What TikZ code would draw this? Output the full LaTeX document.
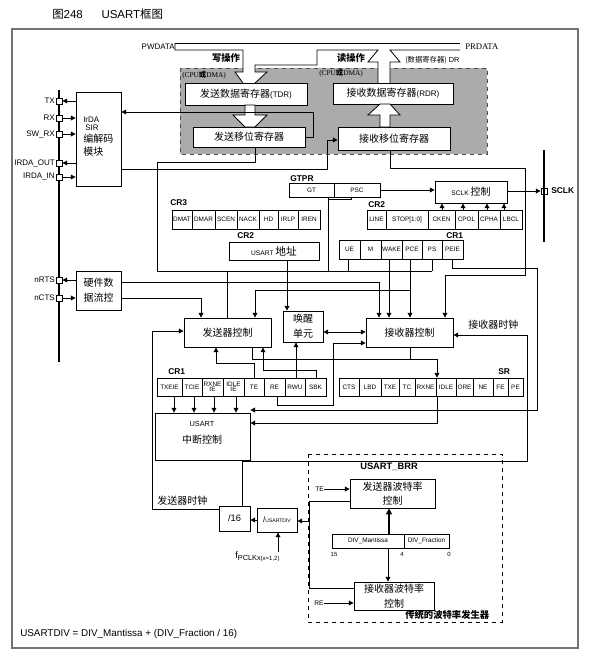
\documentclass[tikz,border=0pt]{standalone}
\usepackage{fontspec}
\setmainfont{Liberation Sans}
\newfontfamily\cjk{Noto Sans CJK SC}
\newfontfamily\tms{Liberation Serif}
\usetikzlibrary{arrows.meta}
\newcommand\myfs[1]{\fontsize{#1}{#1}\selectfont}
\newcommand\mybox[6]{\node[bx, minimum width={(#3-#2)*0.75pt}, minimum height={(#5-#4)*0.75pt}] (#1) at ({(#2+#3)/2},{(#4+#5)/2}) {#6};}
\newcommand\mycel[6]{\node[cel, minimum width={(#3-#2)*0.75pt}, minimum height={(#5-#4)*0.75pt}] (#1) at ({(#2+#3)/2},{(#4+#5)/2}) {#6};}
\begin{document}
\begin{tikzpicture}[x=0.75pt,y=-0.75pt,
  ln/.style={line width=0.6pt},
  bx/.style={draw, line width=0.6pt, fill=white, inner sep=0pt, align=center},
  cel/.style={draw, line width=0.5pt, fill=white, inner sep=0pt, align=center, font=\myfs{4.8}},
  ar/.style={line width=0.6pt, -{Triangle[length=3.6pt,width=3.6pt]}},
  dar/.style={line width=0.6pt, {Triangle[length=3.6pt,width=3.6pt]}-{Triangle[length=3.6pt,width=3.6pt]}},
  pin/.style={draw, fill=white, minimum size=4.5pt, inner sep=0pt, line width=0.6pt},
  lbl/.style={inner sep=0pt, font=\myfs{6}},
  bl/.style={inner sep=0pt, font=\bfseries\myfs{6.3}},
  ck/.style={inner sep=0pt, font=\cjk\myfs{7.5}},
  frame/.style={draw=black!55, line width=0.8pt}]
\useasboundingbox (0,0) rectangle (601,661);
\node[anchor=west, inner sep=0pt, font=\myfs{8.6}] (title) at (52,14) {{\cjk 图}248\hspace{14pt}USART{\cjk 框图}};
\draw[frame] (12,29) rectangle (578,648);
% ---------- top: data bus and registers
\filldraw[fill=black!33, draw=black!70, dashed, line width=0.7pt] (180,68) rectangle (487,154);
\fill[white] (243,50) -- (243,72) -- (235,72) -- (243,83) -- (255,83) -- (267,72) -- (255,72) -- (255,50) -- cycle;
\fill[white] (378,50) -- (368,62) -- (378,62) -- (378,83) -- (390,83) -- (390,62) -- (400,62) -- (390,50) -- cycle;
\draw[ln] (175,43) -- (460,43);
\draw[ln] (175,43) -- (175,50) -- (243,50) -- (243,72) -- (235,72) -- (243,83);
\draw[ln] (255,83) -- (267,72) -- (255,72) -- (255,65) -- (317,65) -- (317,50) -- (378,50) -- (368,62) -- (378,62) -- (378,83);
\draw[ln] (390,83) -- (390,62) -- (400,62) -- (390,50) -- (460,50);
\node[lbl, anchor=east] (pwd) at (175,47) {PWDATA};
\node[lbl, anchor=west, font=\tms\myfs{6.5}] (prd) at (465,47) {PRDATA};
\node[ck, font=\cjk\bfseries\myfs{7}] (wop) at (226,58) {写操作};
\node[ck, font=\cjk\bfseries\myfs{7}] (rop) at (351,58) {读操作};
\node[anchor=west, inner sep=0pt, font=\myfs{5.5}] (drl) at (405,60) {{\cjk (数据寄存器)} DR};
\node[anchor=west, inner sep=0pt, font=\tms\myfs{5.5}] (cpu1) at (182,75) {(CPU{\cjk\bfseries 或}DMA)};
\node[anchor=west, inner sep=0pt, font=\tms\myfs{5.5}] (cpu2) at (319,73) {(CPU{\cjk\bfseries 或}DMA)};
\mybox{tdr}{185}{307}{83}{105}{{\cjk\myfs{7.5}发送数据寄存器}\myfs{6}(TDR)}
\mybox{rdr}{333}{453}{83}{104}{{\cjk\myfs{7.5}接收数据寄存器}\myfs{6}(RDR)}
\mybox{tsr}{193}{305}{127}{147}{\cjk\myfs{7.5}发送移位寄存器}
\mybox{rsr}{338}{450}{127}{150}{\cjk\myfs{7.5}接收移位寄存器}
\filldraw[ln, fill=white] (245,105) -- (245,115) -- (233,115) -- (245,127) -- (255,127) -- (267,115) -- (255,115) -- (255,105) -- cycle;
\filldraw[ln, fill=white] (380,127) -- (380,115) -- (368,115) -- (380,104) -- (390,104) -- (400,115) -- (390,115) -- (390,127) -- cycle;
% ---------- left pins
\draw[line width=1.5pt] (59,90) -- (59,362);
\mybox{irda}{76}{121}{92}{186}{}
\node[anchor=west, inner sep=0pt, font=\myfs{6}] (irt1) at (83,120) {IrDA};
\node[anchor=west, inner sep=0pt, font=\myfs{6}] (irt2) at (85,128) {SIR};
\node[anchor=west, ck] (irt3) at (83,139) {编解码};
\node[anchor=west, ck] (irt4) at (83,152) {模块};
\node[pin] (ptx) at (59,101) {}; \node[lbl, anchor=east] (ltx) at (55,101) {TX};
\node[pin] (prx) at (59,118) {}; \node[lbl, anchor=east] (lrx) at (55,118) {RX};
\node[pin] (psw) at (59,134) {}; \node[lbl, anchor=east] (lsw) at (55,134) {SW\_RX};
\node[pin] (pio) at (59,163) {}; \node[lbl, anchor=east] (lio) at (55,163) {IRDA\_OUT};
\node[pin] (pii) at (59,177) {}; \node[lbl, anchor=east] (lii) at (55,177) {IRDA\_IN};
\draw[ar] (irda.west|-ptx) -- (ptx);
\draw[ar] (prx) -- (irda.west|-prx);
\draw[ar] (psw) -- (irda.west|-psw);
\draw[ar] (irda.west|-pio) -- (pio);
\draw[ar] (pii) -- (irda.west|-pii);
\mybox{hwfc}{76}{121}{271}{310}{\cjk\myfs{7.5}硬件数\\[-1pt]\cjk\myfs{7.5}据流控}
\node[pin] (prts) at (59,280) {}; \node[lbl, anchor=east] (lrts) at (55,280) {nRTS};
\node[pin] (pcts) at (59,298) {}; \node[lbl, anchor=east] (lcts) at (55,298) {nCTS};
\draw[ar] (hwfc.west|-prts) -- (prts);
\draw[ar] (pcts) -- (hwfc.west|-pcts);
% ---------- GTPR, CR3, CR2, SCLK
\node[bl, anchor=west] (lgtpr) at (290,179) {GTPR};
\mycel{gt}{289}{334}{183}{197}{GT}
\mycel{psc}{334}{380}{183}{197}{PSC}
\mybox{sclk}{435}{507}{181}{203}{\myfs{5}SCLK {\cjk\myfs{7.5}控制}}
\draw[ar] (psc.east) -- (sclk.west|-psc);
\node[pin] (psclk) at (544,191) {};
\node[bl, anchor=west] (lsclk) at (551,191) {SCLK};
\draw[line width=1.2pt] (544,150) -- (544,242);
\draw[ar] (sclk.east|-psclk) -- (psclk);
\node[bl, anchor=west] (lcr3) at (170,203) {CR3};
\mycel{dmat}{172}{192}{210}{229}{DMAT}
\mycel{dmar}{192}{215}{210}{229}{DMAR}
\mycel{scen}{215}{237}{210}{229}{SCEN}
\mycel{nack}{237}{259}{210}{229}{NACK}
\mycel{hd}{259}{278}{210}{229}{HD}
\mycel{irlp}{278}{298}{210}{229}{IRLP}
\mycel{iren}{298}{320}{210}{229}{IREN}
\node[bl, anchor=west] (lcr2a) at (368,205) {CR2};
\mycel{line}{367}{386}{210}{229}{LINE}
\mycel{stop}{386}{428}{210}{229}{STOP[1:0]}
\mycel{cken}{428}{455}{210}{229}{CKEN}
\mycel{cpol}{455}{478}{210}{229}{CPOL}
\mycel{cpha}{478}{500}{210}{229}{CPHA}
\mycel{lbcl}{500}{522}{210}{229}{LBCL}
\draw[ar] (cken.north-|442,0) -- (sclk.south-|442,0);
\draw[ar] (cpol.north-|463,0) -- (sclk.south-|463,0);
\draw[ar] (cpha.north-|487,0) -- (sclk.south-|487,0);
\draw[ar] (lbcl.north-|504,0) -- (sclk.south-|504,0);
\node[bl, anchor=west] (lcr2b) at (237,236) {CR2};
\mybox{uaddr}{229}{319}{242}{260}{\myfs{5}USART {\cjk\myfs{8}地址}}
\node[bl, anchor=west] (lcr1a) at (446,236) {CR1};
\mycel{ue}{339}{360}{240}{259}{UE}
\mycel{m}{360}{381}{240}{259}{M}
\mycel{wake}{381}{402}{240}{259}{WAKE}
\mycel{pce}{402}{422}{240}{259}{PCE}
\mycel{ps}{422}{442}{240}{259}{PS}
\mycel{peie}{442}{463}{240}{259}{PEIE}
% ---------- controllers
\mybox{txctl}{184}{271}{318}{347}{\cjk\myfs{7.5}发送器控制}
\mybox{wku}{283}{323}{311}{342}{\cjk\myfs{7.5}唤醒\\[-1pt]\cjk\myfs{7.5}单元}
\mybox{rxctl}{366}{453}{318}{347}{\cjk\myfs{7.5}接收器控制}
\node[bl, anchor=west] (lcr1b) at (168,372) {CR1};
\mycel{txeie}{157}{182}{378}{396}{TXEIE}
\mycel{tcie}{182}{202}{378}{396}{TCIE}
\mycel{rxneie}{202}{223}{378}{396}{RXNE\\[-1pt]IE}
\mycel{idleie}{223}{244}{378}{396}{IDLE\\[-1pt]IE}
\mycel{te}{244}{264}{378}{396}{TE}
\mycel{re}{264}{285}{378}{396}{RE}
\mycel{rwu}{285}{305}{378}{396}{RWU}
\mycel{sbk}{305}{326}{378}{396}{SBK}
\node[bl, anchor=west] (lsr) at (498,372) {SR};
\mycel{cts}{339}{359}{378}{396}{CTS}
\mycel{lbd}{359}{381}{378}{396}{LBD}
\mycel{txe}{381}{399}{378}{396}{TXE}
\mycel{tc}{399}{415}{378}{396}{TC}
\mycel{rxne}{415}{436}{378}{396}{RXNE}
\mycel{idle}{436}{456}{378}{396}{IDLE}
\mycel{ore}{456}{473}{378}{396}{ORE}
\mycel{ne}{473}{493}{378}{396}{NE}
\mycel{fe}{493}{508}{378}{396}{FE}
\mycel{pe}{508}{523}{378}{396}{PE}
\mybox{intr}{155}{250}{413}{460}{}
\node[inner sep=0pt, font=\myfs{5.5}] (intt1) at (202,424) {USART};
\node[ck] (intt2) at (202,440) {中断控制};
% ---------- connectors, upper middle
\draw[ar] (tsr.east) -- (313,137) -- (313,112) -- (irda.east|-0,112);
\draw[ar] (irda.east|-0,169) -- (327,169) -- (327,140) -- (rsr.west|-0,140);
\draw[ln] (tsr.south-|255,0) -- (255,162) -- (157,162) -- (157,271) -- (432,271);
\draw[ln] (227,271) -- (txctl.north-|227,0);
\draw[ln] (gt.south-|328,0) -- (328,271);
\draw[ln] (psc.south-|351,0) -- (351,199) -- (328,199);
\draw[ln] (ue.south-|348,0) -- (348,271);
\draw[ln] (ps.south) -- (ps.south|-0,271);
\draw[ar] (uaddr.south-|287,0) -- (wku.north-|287,0);
\draw[ar] (hwfc.east|-0,282) -- (379,282) -- (rxctl.north-|379,0);
\draw[ar] (hwfc.east|-0,298) -- (201,298) -- (txctl.north-|201,0);
\draw[ar] (pce.south-|410,0) -- (rxctl.north-|410,0);
\draw[ar] (410,290) -- (255,290) -- (txctl.north-|255,0);
\draw[ar] (wake.south-|389,0) -- (rxctl.north-|389,0);
\draw[ar] (rsr.south-|390,0) -- (390,168) -- (525,168) -- (525,275) -- (445,275) -- (rxctl.north-|445,0);
\draw[ar] (peie.south-|452,0) -- (452,268) -- (537,268) -- (537,410) -- (intr.east|-0,410);
% clocks
\node[ck, anchor=west] (rxclk) at (468,325) {接收器时钟};
\node[ck, anchor=west] (txclk) at (157,501) {发送器时钟};
\mybox{div16}{219}{250}{506}{531}{\myfs{7}/16}
\mybox{udiv}{257}{297}{508}{532}{\myfs{6}/\myfs{3.8}USARTDIV}
\draw[ar] (div16.north-|242,0) -- (242,461) -- (527,461) -- (527,335) -- (rxctl.east|-0,335);
\draw[ar] (div16.west|-0,509) -- (152,509) -- (152,331) -- (txctl.west|-0,331);
% lower middle
\draw[ar] (te.north-|254,0) -- (254,363) -- (216,363) -- (txctl.south-|216,0);
\draw[ar] (sbk.north-|316,0) -- (316,370) -- (263,370) -- (txctl.south-|263,0);
\draw[ar] (rwu.north-|296,0) -- (wku.south-|296,0);
\draw[ar] (txctl.south-|252,0) -- (252,359) -- (437,359) -- (idle.north-|437,0);
\draw[ln] (rxctl.south-|410,0) -- (410,359);
\draw[ar] (idle.south-|437,0) -- (437,423) -- (intr.east|-0,423);
\draw[ar] (re.south-|277,0) -- (277,405) -- (333,405) -- (333,343) -- (rxctl.west|-0,343);
\draw[dar] (wku.east|-0,332) -- (rxctl.west|-0,332);
\draw[ar] (txeie.south-|174,0) -- (intr.north-|174,0);
\draw[ar] (tcie.south-|194,0) -- (intr.north-|194,0);
\draw[ar] (rxneie.south-|214,0) -- (intr.north-|214,0);
\draw[ar] (idleie.south-|236,0) -- (intr.north-|236,0);
% ---------- BRR
\draw[dashed, line width=0.7pt] (308,454) rectangle (502,622);
\node[bl, anchor=west, font=\bfseries\myfs{7}] (lbrr) at (360,467) {USART\_BRR};
\mybox{txbr}{350}{435}{479}{508}{\cjk\myfs{7.5}发送器波特率\\[-1pt]\cjk\myfs{7.5}控制}
\mybox{rxbr}{354}{434}{582}{610}{\cjk\myfs{7.5}接收器波特率\\[-1pt]\cjk\myfs{7.5}控制}
\mycel{mant}{332}{404}{534}{548}{DIV\_Mantissa}
\mycel{frac}{404}{449}{534}{548}{DIV\_Fraction}
\node[inner sep=0pt, font=\myfs{4.5}] (b15) at (334,554) {15};
\node[inner sep=0pt, font=\myfs{4.5}] (b4) at (402,554) {4};
\node[inner sep=0pt, font=\myfs{4.5}] (b0) at (449,554) {0};
\node[lbl, anchor=west, font=\myfs{5}] (lte) at (315,489) {TE};
\node[lbl, anchor=west, font=\myfs{5}] (lre) at (314,603) {RE};
\draw[ar] (lte.east) -- (txbr.west|-lte);
\draw[ar] (lre.east) -- (rxbr.west|-lre);
\draw[ln] (txbr.west|-0,501) -- (309,501) -- (309,588) -- (rxbr.west|-0,588);
\draw[ar] (309,521) -- (udiv.east|-0,521);
\draw[line width=1.3pt, -{Triangle[length=4.5pt,width=4.5pt]}] (mant.north-|389,0) -- (txbr.south-|389,0);
\draw[ar] (mant.south-|388,0) -- (rxbr.north-|388,0);
\node[ck, anchor=west, font=\cjk\bfseries\myfs{7}] (ltrad) at (405,615) {传统的波特率发生器};
\draw[ar] (udiv.west) -- (div16.east|-udiv.west);
\node[inner sep=0pt, anchor=west, font=\myfs{7}] (fpclk) at (235,557) {f\raisebox{-1.5pt}{\myfs{5.5}PCLKx\myfs{4.5}(x=1,2)}};
\draw[ar] (fpclk.north-|278,0) -- (udiv.south-|278,0);
\node[inner sep=0pt, anchor=west, font=\myfs{7.4}] (formula) at (20,634) {USARTDIV = DIV\_Mantissa + (DIV\_Fraction / 16)};
\end{tikzpicture}
\end{document}
